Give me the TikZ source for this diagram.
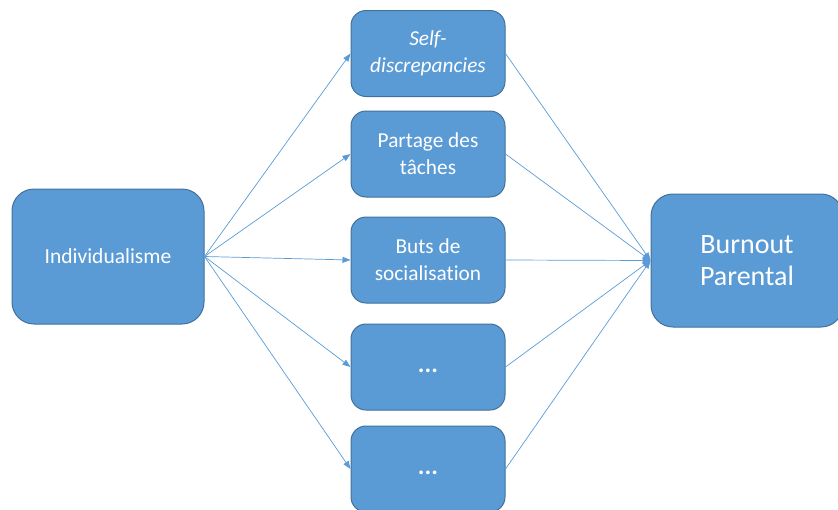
\documentclass[tikz,border=0pt]{standalone}
\usepackage{fontspec}
\setmainfont[Ligatures={NoCommon}]{Carlito}
\usetikzlibrary{arrows.meta}
\definecolor{boxfill}{HTML}{5B9BD5}
\definecolor{boxline}{HTML}{41719C}
\begin{document}
\begin{tikzpicture}[x=1pt,y=-1pt,
  bigbox/.style={rectangle, rounded corners=22pt, fill=boxfill, draw=boxline, line width=1pt,
     text=white, align=center, inner sep=0pt},
  midbox/.style={rectangle, rounded corners=15pt, fill=boxfill, draw=boxline, line width=1pt,
     text=white, align=center, inner sep=0pt, minimum width=154pt, minimum height=86pt,
     font=\fontsize{21.3}{27}\selectfont},
  dotbox/.style={midbox, font=\fontsize{25}{27}\selectfont, text height=0pt, text depth=0pt},
  arr/.style={draw=boxfill, line width=0.7pt, -{Triangle[length=8pt,width=6pt]}}]
\useasboundingbox (0,0) rectangle (838,509);
\clip (0,0) rectangle (838,509);
\node[bigbox, minimum width=192pt, minimum height=135pt, font=\fontsize{21.5}{24}\selectfont] (L) at (108,256.5) {Individualisme};
\node[midbox] (m1) at (428,53.5) {\itshape Self-\\\itshape discrepancies};
\node[midbox] (m2) at (428,154) {Partage des\\tâches};
\node[midbox] (m3) at (428,260) {Buts de\\socialisation};
\node[dotbox] (m4) at (428,367) {\raisebox{-5pt}{\textbf{...}}};
\node[dotbox] (m5) at (428,469) {\raisebox{-5pt}{\textbf{...}}};
\node[bigbox, minimum width=192pt, minimum height=133pt, font=\fontsize{28}{32}\selectfont] (R) at (747,260.5) {Burnout\\Parental};
\foreach \m in {m1,m2,m3,m4,m5}{
  \draw[arr] (L.east) -- (\m.west);
  \draw[arr] (\m.east) -- (R.west);
}
\end{tikzpicture}
\end{document}
